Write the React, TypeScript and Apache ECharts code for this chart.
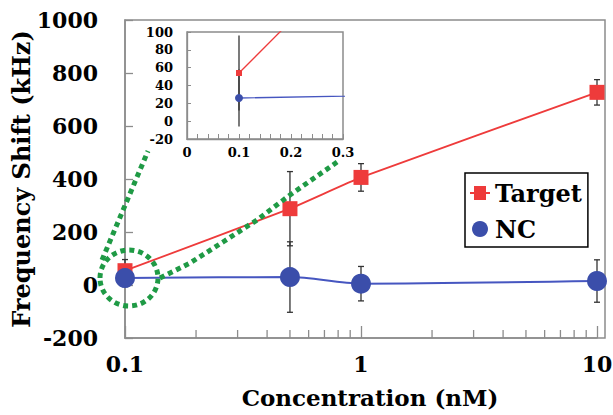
import React, { useEffect, useRef } from "react";
import * as echarts from "echarts";

// ---- data ----
const concentrations = [0.1, 0.5, 1, 10];
const targetShift = [54, 288, 406, 727];
const targetErr = [42, 140, 52, 48];
const ncShift = [26, 30, 5, 15];
const ncErr = [32, 133, 65, 80];
const mainMinorTicks = [0.2, 0.3, 0.4, 0.5, 0.6, 0.7, 0.8, 0.9, 2, 3, 4, 5, 6, 7, 8, 9];
const seriesNames = ["Target", "NC"];
const xTitle = "Concentration (nM)";
const yTitle = "Frequency Shift (kHz)";

const FONT = "DejaVu Serif";
const RED = "#ee3b3b";
const BLUE = "#3b4eaa";
const BLUE_LINE = "#4656c0";
const GREEN = "#1f9a45";
const GRAY = "#8c8c8c";

function errorRender(cap: number) {
  return (params: any, api: any) => {
    const x = api.value(0);
    const y = api.value(1);
    const e = api.value(2);
    const hi = api.coord([x, y + e]);
    const lo = api.coord([x, y - e]);
    const st = { stroke: "#333", lineWidth: 1.3 };
    const children: any[] = [
      { type: "line", shape: { x1: hi[0], y1: hi[1], x2: lo[0], y2: lo[1] }, style: st },
    ];
    if (cap > 0) {
      children.push({ type: "line", shape: { x1: hi[0] - cap, y1: hi[1], x2: hi[0] + cap, y2: hi[1] }, style: st });
      children.push({ type: "line", shape: { x1: lo[0] - cap, y1: lo[1], x2: lo[0] + cap, y2: lo[1] }, style: st });
    }
    return { type: "group", children };
  };
}

function minorTickRender(params: any, api: any) {
  const p = api.coord([api.value(0), api.value(1)]);
  return {
    type: "line",
    shape: { x1: p[0], y1: p[1], x2: p[0], y2: p[1] - 8 },
    style: { stroke: GRAY, lineWidth: 1.3 },
  };
}

export default function App() {
  const ref = useRef<HTMLDivElement>(null);
  useEffect(() => {
    if (!ref.current) return;
    const chart = echarts.init(ref.current, null, { renderer: "svg" });
    const targetData = concentrations.map((c, i) => [c, targetShift[i]]);
    const ncData = concentrations.map((c, i) => [c, ncShift[i]]);
    const targetErrData = concentrations.map((c, i) => [c, targetShift[i], targetErr[i]]);
    const ncErrData = concentrations.map((c, i) => [c, ncShift[i], ncErr[i]]);
    const insetTargetErr = [[concentrations[0], targetShift[0], targetErr[0]]];
    const insetNcErr = [[concentrations[0], ncShift[0], ncErr[0]]];

    const labelBig = { fontFamily: FONT, fontWeight: "bold" as const, color: "#000" };

    chart.setOption({
      animation: false,
      backgroundColor: "#fff",
      grid: [
        { left: 125, top: 20, width: 472, height: 318, outerBoundsMode: "none" },
        {
          left: 187, top: 32, width: 156, height: 107, show: true,
          backgroundColor: "#fff", borderColor: GRAY, borderWidth: 1.5, outerBoundsMode: "none",
        },
      ],
      xAxis: [
        {
          type: "log", logBase: 10, min: 0.1, max: 10, gridIndex: 0,
          name: xTitle, nameLocation: "middle", nameGap: 48, nameMoveOverlap: false,
          nameTextStyle: { ...labelBig, fontSize: 23, padding: [0, 0, 0, 18] },
          axisLine: { onZero: false, lineStyle: { color: GRAY, width: 1.5 } },
          axisTick: { inside: true, length: 12, lineStyle: { color: GRAY, width: 1.3 } },
          axisLabel: {
            ...labelBig, fontSize: 22, margin: 15,
            formatter: (v: number) => String(Number(v.toPrecision(2))),
          },
          splitLine: { show: false },
          minorTick: { show: false },
        },
        {
          type: "value", min: 0, max: 0.3, interval: 0.1, gridIndex: 1,
          axisLine: { onZero: false, lineStyle: { color: GRAY, width: 1.3 } },
          axisTick: { inside: true, length: 5, lineStyle: { color: GRAY } },
          minorTick: { show: true, splitNumber: 5, length: 5, lineStyle: { color: GRAY } },
          axisLabel: {
            ...labelBig, fontSize: 13, margin: 7,
            formatter: (v: number) => (v === 0 ? "0" : v.toFixed(1)),
          },
          splitLine: { show: false },
        },
      ],
      yAxis: [
        {
          type: "value", min: -200, max: 1000, interval: 200, gridIndex: 0,
          name: yTitle, nameLocation: "middle", nameGap: 92, nameMoveOverlap: false,
          nameTextStyle: { ...labelBig, fontSize: 24 },
          axisLine: { show: true, onZero: false, lineStyle: { color: GRAY, width: 1.5 } },
          axisTick: { show: true, inside: true, length: 8, lineStyle: { color: GRAY, width: 1.3 } },
          axisLabel: {
            ...labelBig, fontSize: 22, margin: 27, showMinLabel: true, showMaxLabel: true,
            formatter: (v: number) => String(v),
          },
          splitLine: { show: false },
        },
        {
          type: "value", min: -20, max: 100, interval: 20, gridIndex: 1,
          axisLine: { show: true, onZero: false, lineStyle: { color: GRAY, width: 1.3 } },
          axisTick: { show: true, inside: true, length: 4, lineStyle: { color: GRAY } },
          axisLabel: {
            ...labelBig, fontSize: 13, margin: 14, showMinLabel: true, showMaxLabel: true,
            formatter: (v: number) => String(v),
          },
          splitLine: { show: false },
        },
      ],
      legend: {
        data: [
          { name: seriesNames[0], icon: "path://M0,7H4V1H16V7H20V9H16V15H4V9H0Z" },
          { name: seriesNames[1], icon: "circle" },
        ],
        orient: "vertical", left: 465, top: 173,
        itemWidth: 20, itemHeight: 16, itemGap: 12,
        padding: [8, 6, 6, 5],
        borderColor: "#000", borderWidth: 1.5, backgroundColor: "#fff",
        textStyle: { ...labelBig, fontSize: 24 },
        selectedMode: false,
      },
      series: [
        {
          type: "custom", name: "mainMinorTicks", xAxisIndex: 0, yAxisIndex: 0,
          data: mainMinorTicks.map((v) => [v, -200]), renderItem: minorTickRender,
          encode: { x: 0, y: 1 }, silent: true, z: 1,
        },
        {
          type: "custom", name: "targetErr", xAxisIndex: 0, yAxisIndex: 0,
          data: targetErrData, renderItem: errorRender(3), encode: { x: 0, y: 1 }, silent: true, z: 2,
        },
        {
          type: "custom", name: "ncErr", xAxisIndex: 0, yAxisIndex: 0,
          data: ncErrData, renderItem: errorRender(3), encode: { x: 0, y: 1 }, silent: true, z: 2,
        },
        {
          type: "line", name: seriesNames[0], xAxisIndex: 0, yAxisIndex: 0, data: targetData,
          symbol: "rect", symbolSize: 15, smooth: 0.15,
          itemStyle: { color: RED }, lineStyle: { color: RED, width: 1.8 }, z: 3,
        },
        {
          type: "line", name: seriesNames[1], xAxisIndex: 0, yAxisIndex: 0, data: ncData,
          symbol: "circle", symbolSize: 20, smooth: 0.3,
          itemStyle: { color: BLUE }, lineStyle: { color: BLUE_LINE, width: 2 }, z: 4,
        },
        {
          type: "custom", name: "insetTargetErr", xAxisIndex: 1, yAxisIndex: 1,
          data: insetTargetErr, renderItem: errorRender(0), encode: { x: 0, y: 1 }, silent: true, z: 2,
        },
        {
          type: "custom", name: "insetNcErr", xAxisIndex: 1, yAxisIndex: 1,
          data: insetNcErr, renderItem: errorRender(0), encode: { x: 0, y: 1 }, silent: true, z: 2,
        },
        {
          type: "line", name: "TargetInset", xAxisIndex: 1, yAxisIndex: 1, data: targetData,
          symbol: "rect", symbolSize: 6, clip: true, color: RED,
          itemStyle: { color: RED }, lineStyle: { color: RED, width: 1.3, opacity: 1 }, z: 5,
        },
        {
          type: "line", name: "NCInset", xAxisIndex: 1, yAxisIndex: 1, data: ncData,
          symbol: "circle", symbolSize: 8, clip: true, color: BLUE,
          itemStyle: { color: BLUE }, lineStyle: { color: BLUE_LINE, width: 1.3 }, z: 5,
        },
      ],
      graphic: [
        {
          type: "rect", silent: true, z: 0,
          shape: { x: 125, y: 20, width: 480, height: 318 },
          style: { fill: "none", stroke: GRAY, lineWidth: 1.5 },
        },
        {
          type: "ellipse", silent: true, z: 100,
          shape: { cx: 129, cy: 278, rx: 29, ry: 28 },
          style: { fill: "none", stroke: GREEN, lineWidth: 5, lineDash: [5, 4] },
        },
        {
          type: "line", silent: true, z: 100,
          shape: { x1: 102, y1: 260, x2: 148, y2: 151 },
          style: { stroke: GREEN, lineWidth: 5, lineDash: [5, 4] },
        },
        {
          type: "polyline", silent: true, z: 100,
          shape: { points: [[160, 278], [190, 263], [223, 242], [257, 220], [290, 195], [340, 160]] },
          style: { fill: "none", stroke: GREEN, lineWidth: 5, lineDash: [5, 4] },
        },
      ],
    });
    return () => chart.dispose();
  }, []);
  return <div ref={ref} style={{ width: 613, height: 415, position: "absolute", left: 0, top: 0 }} />;
}
